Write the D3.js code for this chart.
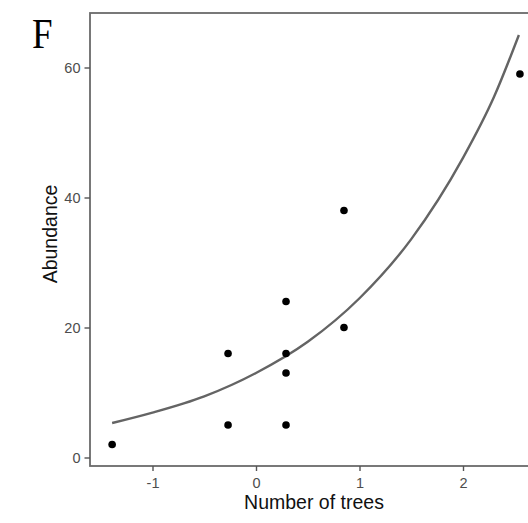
<!DOCTYPE html>
<html>
<head>
<meta charset="utf-8">
<script src="https://cdn.jsdelivr.net/npm/d3@7"></script>
<style>
  body { margin: 0; background: #fff; }
  svg { display: block; }
</style>
</head>
<body>
<div id="chart"></div>
<script>
// observed points
const treesX = [-1.39, -0.27, -0.27, 0.29, 0.29, 0.29, 0.29, 0.85, 0.85, 2.55];
const abundance = [2, 5, 16, 5, 13, 16, 24, 20, 38, 59];

// fitted curve
const fitX = [-1.39, -1, -0.5, 0, 0.5, 1, 1.5, 2, 2.3, 2.54];
const fitY = [5.3, 6.9, 9.4, 13.0, 17.8, 24.5, 33.6, 46.1, 55.5, 65.0];

const xTicks = [-1, 0, 1, 2];
const yTicks = [0, 20, 40, 60];

const width = 528;
const height = 523;
const panelLeft = 90, panelTop = 13, panelBottom = 466, panelRight = 545;

const svg = d3.select("#chart")
  .append("svg")
  .attr("width", width)
  .attr("height", height);

const x = d3.scaleLinear().domain([0, 1]).range([256, 359.5]);
const y = d3.scaleLinear().domain([0, 60]).range([457.5, 67.5]);

// panel border (right side runs off the picture)
svg.append("rect")
  .attr("x", panelLeft)
  .attr("y", panelTop)
  .attr("width", panelRight - panelLeft)
  .attr("height", panelBottom - panelTop)
  .attr("fill", "none")
  .attr("stroke", "#6a6a6a")
  .attr("stroke-width", 1.8);

const xAxis = svg.append("g")
  .attr("transform", `translate(0,${panelBottom})`)
  .call(d3.axisBottom(x).tickValues(xTicks).tickSize(5).tickPadding(6.5).tickFormat(d => String(d)));

const yAxis = svg.append("g")
  .attr("transform", `translate(${panelLeft},0)`)
  .call(d3.axisLeft(y).tickValues(yTicks).tickSize(5.5).tickPadding(4));

[xAxis, yAxis].forEach(g => {
  g.select(".domain").remove();
  g.selectAll(".tick line").attr("stroke", "#555").attr("stroke-width", 1.4);
  g.selectAll(".tick text")
    .attr("fill", "#4d4d4d")
    .style("font-family", "Liberation Sans, Arial, sans-serif")
    .style("font-size", "14.5px");
});

// fitted line
const fit = fitX.map((d, i) => [d, fitY[i]]);
svg.append("path")
  .datum(fit)
  .attr("fill", "none")
  .attr("stroke", "#646464")
  .attr("stroke-width", 2.4)
  .attr("d", d3.line()
    .x(d => x(d[0]))
    .y(d => y(d[1]))
    .curve(d3.curveMonotoneX));

// points
svg.selectAll("circle.pt")
  .data(treesX.map((d, i) => [d, abundance[i]]))
  .enter()
  .append("circle")
  .attr("class", "pt")
  .attr("cx", d => x(d[0]))
  .attr("cy", d => y(d[1]))
  .attr("r", 3.8)
  .attr("fill", "#000");

// axis titles
svg.append("text")
  .attr("x", 314)
  .attr("y", 509)
  .attr("text-anchor", "middle")
  .style("font-family", "Liberation Sans, Arial, sans-serif")
  .style("font-size", "19.5px")
  .attr("fill", "#111")
  .text("Number of trees");

svg.append("text")
  .attr("transform", "translate(56.5,234) rotate(-90)")
  .attr("text-anchor", "middle")
  .style("font-family", "Liberation Sans, Arial, sans-serif")
  .style("font-size", "19.5px")
  .attr("fill", "#111")
  .text("Abundance");

// panel letter
svg.append("text")
  .attr("transform", "translate(32,47.5) scale(1,1.15)")
  .style("font-family", "Liberation Serif, Times New Roman, serif")
  .style("font-size", "37px")
  .attr("fill", "#000")
  .text("F");
</script>
</body>
</html>
